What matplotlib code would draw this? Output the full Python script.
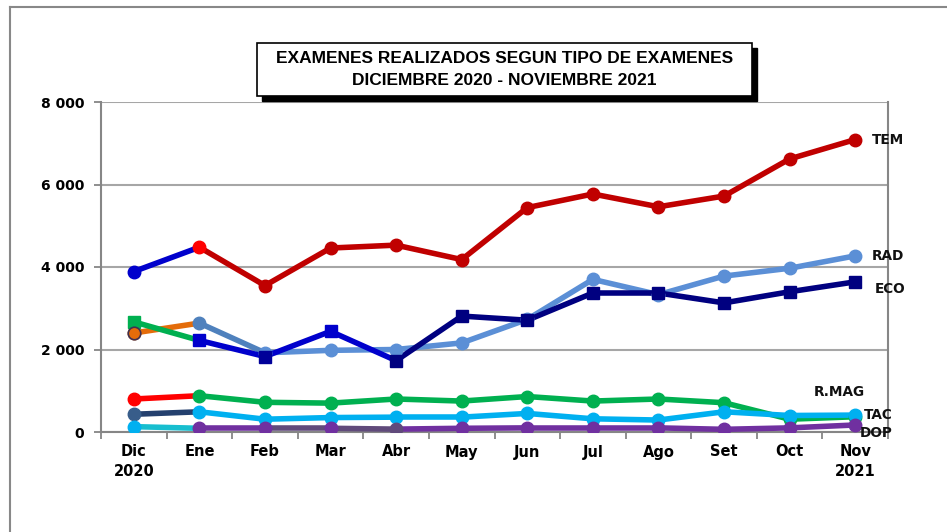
import matplotlib
matplotlib.use("Agg")
import matplotlib.pyplot as plt
from matplotlib.lines import Line2D
from matplotlib.patches import Rectangle

plt.rcParams["font.family"] = ["DejaVu Sans"]

# ── datos ────────────────────────────────────────────────────────────────
meses = ["Dic\n2020", "Ene", "Feb", "Mar", "Abr", "May", "Jun", "Jul",
         "Ago", "Set", "Oct", "Nov\n2021"]

tem  = [3890, 4480, 3550, 4460, 4530, 4180, 5440, 5770, 5460, 5720, 6620, 7090]
rad  = [2400, 2640, 1920, 1980, 2000, 2160, 2730, 3700, 3330, 3780, 3970, 4270]
eco  = [2670, 2220, 1830, 2440, 1730, 2810, 2710, 3370, 3370, 3130, 3400, 3640]
rmag = [800, 880, 720, 700, 800, 750, 860, 750, 800, 710, 310, 370]
tac  = [430, 490, 310, 350, 360, 360, 450, 320, 290, 490, 400, 410]
dop  = [130, 90, 90, 90, 70, 90, 100, 100, 100, 65, 100, 170]

# ── estilos por tramo (Excel con puntos formateados a mano) ───────────────
def tramos(primero, resto, extra=None):
    c = [primero] + [resto] * 10
    for i, col in (extra or {}).items():
        c[i] = col
    return c

SERIES = [
    # nombre, valores, colores de tramo (11), colores de marcador (12), marcador
    ("TEM", tem, tramos("#0000CC", "#C00000"),
     ["#0000CC", "#FF0000"] + ["#C00000"] * 10, "o"),
    ("RAD", rad, tramos("#E46C0A", "#5B8FD6", {1: "#4F81BD"}),
     ["#E46C0A", "#4F81BD"] + ["#5B8FD6"] * 10, "o"),
    ("ECO", eco, tramos("#00B050", "#000080", {1: "#0000CC", 2: "#0000CC", 3: "#0000CC"}),
     ["#00B050", "#0000CC", "#000099", "#0000CC"] + ["#000080"] * 8, "s"),
    ("R.MAG", rmag, tramos("#FF0000", "#00B050"),
     ["#FF0000"] + ["#00B050"] * 11, "o"),
    ("TAC", tac, tramos("#24406E", "#00B0F0"),
     ["#385D8A"] + ["#00B0F0"] * 11, "o"),
    ("DOP", dop, tramos("#17BECF", "#7030A0", {2: "#604A7B", 3: "#604A7B"}),
     ["#00B0F0", "#7030A0", "#7030A0", "#7030A0", "#604A7B"] + ["#7030A0"] * 7, "o"),
]

# offset de la etiqueta final (px)
ETIQ = {"TEM": (17, 0), "RAD": (17, 0), "ECO": (20, -7),
        "R.MAG": (-16, 25), "TAC": (9, 0), "DOP": (5, -8)}
ETIQ_HA = {"R.MAG": "center"}

# ── figura ───────────────────────────────────────────────────────────────
fig = plt.figure(figsize=(9.47, 5.32), dpi=100)
ax = fig.add_axes([101 / 947, 100 / 532, 787 / 947, 330 / 532])

x = list(range(len(meses)))
for nombre, vals, segs, mcols, mk in SERIES:
    for i in range(len(vals) - 1):
        ax.plot(x[i:i + 2], vals[i:i + 2], color=segs[i], lw=4.0,
                solid_capstyle="round", zorder=3)
    for i in range(len(vals)):
        ms = 9 if mk == "o" else 8.5
        ax.plot(x[i], vals[i], marker=mk, ms=ms, color=mcols[i],
                mec=mcols[i], zorder=4)
    dx, dy = ETIQ[nombre]
    ax.annotate(nombre, (x[-1], vals[-1]), xytext=(dx * 0.72, dy * 0.72),
                textcoords="offset points", ha=ETIQ_HA.get(nombre, "left"),
                va="center", fontsize=9.8, fontweight="bold", color="#111111",
                zorder=6)

# marcador de Dic RAD con borde oscuro
ax.plot(x[0], rad[0], marker="o", ms=9, color="#E46C0A", mec="#3F3151",
        mew=1.2, zorder=5)

ax.set_xlim(-0.5, len(meses) - 0.5)
ax.set_ylim(0, 8000)
ax.set_yticks([0, 2000, 4000, 6000, 8000])
ax.set_yticklabels(["0", "2 000", "4 000", "6 000", "8 000"])
ax.set_xticks(x)
ax.set_xticklabels(meses, fontweight="bold", fontsize=10.5, linespacing=1.35)
ax.set_xticks([i - 0.5 for i in range(len(meses) + 1)], minor=True)
ax.tick_params(axis="x", which="major", length=0, pad=9)
ax.tick_params(axis="x", which="minor", length=5, width=1.3, color="#868686",
               direction="out")
ax.tick_params(axis="y", length=5, width=1.3, color="#868686", pad=7,
               labelsize=10)
for t in ax.get_yticklabels():
    t.set_fontweight("bold")

ax.grid(axis="y", color="#A6A6A6", lw=1.5, zorder=1)
for lado in ["left", "bottom", "right"]:
    ax.spines[lado].set_color("#868686")
    ax.spines[lado].set_linewidth(1.5)
ax.spines["top"].set_visible(False)

# ── título con sombra ────────────────────────────────────────────────────
x0, y0, w, h = 257 / 947, 1 - 96 / 532, 495 / 947, 53 / 532
fig.add_artist(Rectangle((x0 + 5 / 947, y0 - 5 / 532), w, h,
                         transform=fig.transFigure, fc="black", ec="black"))
fig.add_artist(Rectangle((x0, y0), w, h, transform=fig.transFigure,
                         fc="white", ec="black", lw=1.2))
fig.text(x0 + w / 2, y0 + h * 0.70, "EXAMENES REALIZADOS SEGUN TIPO DE EXAMENES",
         ha="center", va="center", fontsize=12.5, fontweight="bold",
         family=["Liberation Sans"])
fig.text(x0 + w / 2, y0 + h * 0.30, "DICIEMBRE 2020 - NOVIEMBRE 2021",
         ha="center", va="center", fontsize=12.5, fontweight="bold",
         family=["Liberation Sans"])

# borde exterior del gráfico
fig.add_artist(Line2D([10 / 947, 10 / 947], [0, 1 - 7 / 532],
                      transform=fig.transFigure, color="#888888", lw=1.5))
fig.add_artist(Line2D([10 / 947, 1], [1 - 7 / 532, 1 - 7 / 532],
                      transform=fig.transFigure, color="#888888", lw=1.5))

fig.savefig("out.png", dpi=100)
